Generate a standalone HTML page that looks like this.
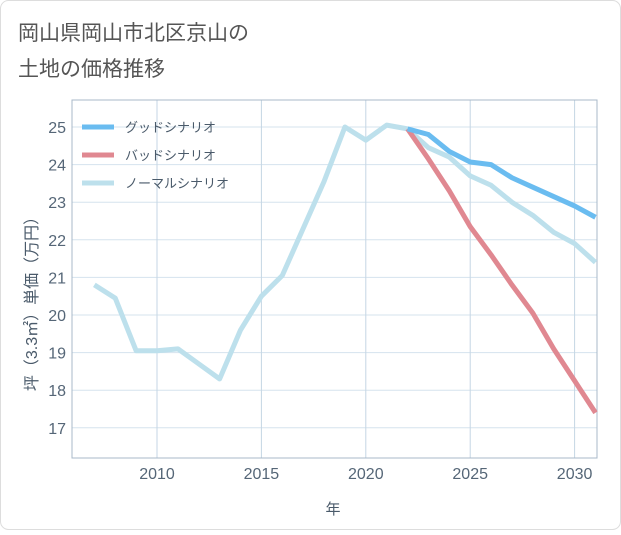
<!DOCTYPE html>
<html><head><meta charset="utf-8"><style>
body{margin:0;background:#fff;font-family:"Liberation Sans","Noto Sans CJK JP",sans-serif}
svg text{font-family:"Liberation Sans","Noto Sans CJK JP",sans-serif}
</style></head><body>
<svg width="621" height="530" viewBox="0 0 621 530">
<rect x="0.5" y="0.5" width="620" height="529" rx="8" fill="#fff" stroke="#ddd"/>
<text x="18" y="40" font-size="21" fill="#555">岡山県岡山市北区京山の</text>
<text x="18" y="76" font-size="21" fill="#555">土地の価格推移</text>
<g id="grid"></g><g id="axes"></g><g id="series"></g>
<text x="333" y="514" font-size="15" fill="#4a5a6a" text-anchor="middle">年</text>
<text transform="translate(37,300) rotate(-90)" font-size="16" fill="#4a5a6a" text-anchor="middle">坪（3.3㎡）単価（万円）</text>
<g id="legend"></g>
</svg>
<script>
const years=[2007,2008,2009,2010,2011,2012,2013,2014,2015,2016,2017,2018,2019,2020,2021,2022,2023,2024,2025,2026,2027,2028,2029,2030,2031];
const normal=[20.8,20.45,19.05,19.05,19.1,18.7,18.3,19.6,20.5,21.05,22.3,23.55,25.0,24.65,25.05,24.95,24.45,24.2,23.7,23.45,23.0,22.65,22.2,21.9,21.4];
const goodYears=[2022,2023,2024,2025,2026,2027,2028,2029,2030,2031];
const good=[24.95,24.8,24.35,24.07,24.0,23.65,23.4,23.15,22.9,22.6];
const bad=[24.95,24.15,23.3,22.35,21.6,20.8,20.05,19.1,18.25,17.4];
const xTicks=[2010,2015,2020,2025,2030];
const yTicks=[17,18,19,20,21,22,23,24,25];
const legendLabels=["グッドシナリオ","バッドシナリオ","ノーマルシナリオ"];
const L=72,R=597,T=100,B=458;
const xs=y=>157+(y-2010)*20.88;
const ys=v=>127+(25-v)*37.6;
const NS="http://www.w3.org/2000/svg";
function mk(tag,attrs,parent){const e=document.createElementNS(NS,tag);for(const k in attrs)e.setAttribute(k,attrs[k]);parent.appendChild(e);return e;}
const grid=document.getElementById('grid'),axes=document.getElementById('axes'),series=document.getElementById('series'),legend=document.getElementById('legend');
yTicks.forEach(v=>{
 const l=mk('line',{x1:L,x2:R,y1:ys(v),y2:ys(v),stroke:'#d5e3ee','stroke-width':1},grid);
 
 
 const t=mk('text',{x:L-6,y:ys(v)+6,'font-size':16,fill:'#556677','text-anchor':'end'},axes);
 t.textContent=v;
 
 
});
xTicks.forEach(v=>{
 const l=mk('line',{x1:xs(v),x2:xs(v),y1:T,y2:B,stroke:'#c5d6e4','stroke-width':1},grid);
 
 
 const t=mk('text',{x:xs(v),y:B+21,'font-size':16,fill:'#556677','text-anchor':'middle'},axes);
 t.textContent=v;
 
 
});
const frame=mk('rect',{x:L,y:T,width:R-L,height:B-T,fill:'none',stroke:'#a8b8c8','stroke-width':1},axes);


function line(xv,yv,color,name){
 const p=mk('polyline',{points:xv.map((x,i)=>xs(x)+','+ys(yv[i])).join(' '),fill:'none',stroke:color,'stroke-width':5,'stroke-linejoin':'round'},series);
 
 
}
line(years,normal,'#bde0ec','normal-line');
line(goodYears,bad,'#e08891','bad-line');
line(goodYears,good,'#6abcf0','good-line');
const colors=['#6abcf0','#e08891','#bde0ec'];
legendLabels.forEach((s,i)=>{
 const y=127+i*28;
 const l=mk('line',{x1:82,x2:114,y1:y,y2:y,stroke:colors[i],'stroke-width':5},legend);
 
 
 const t=mk('text',{x:125,y:y+5,'font-size':13,fill:'#4a5a6a'},legend);
 t.textContent=s;
 
 
});
</script>
</body></html>
